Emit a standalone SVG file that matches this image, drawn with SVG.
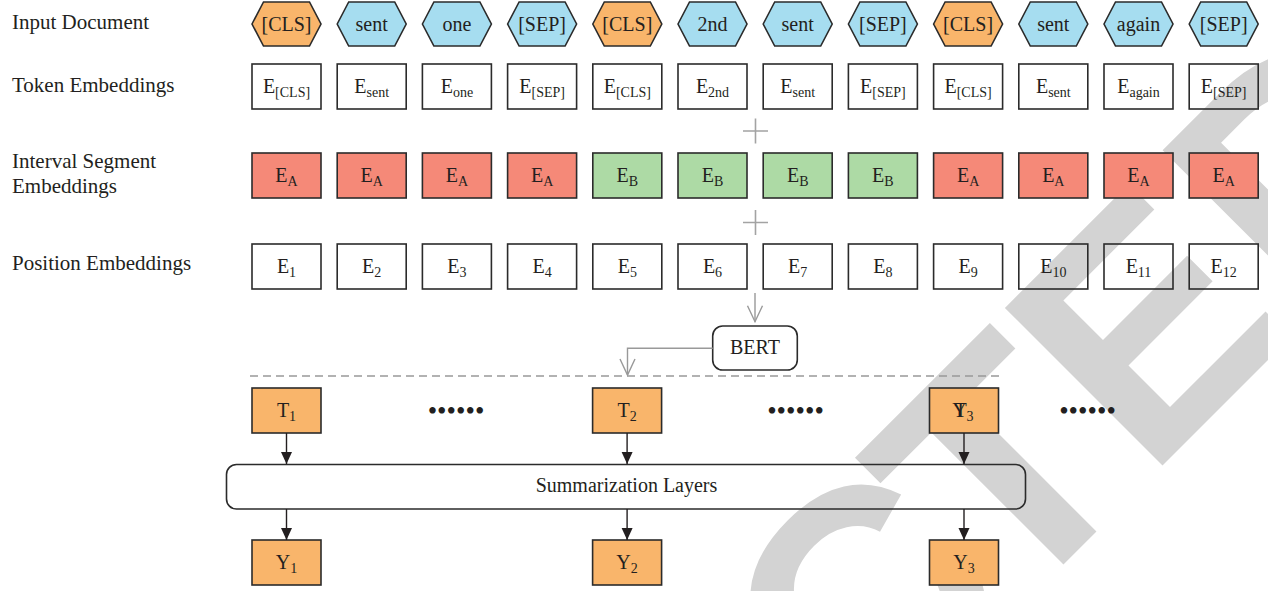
<svg xmlns="http://www.w3.org/2000/svg" xmlns:xlink="http://www.w3.org/1999/xlink" width="1268" height="591" viewBox="0 0 1268 591">
<style>
.lbl{font-family:"Liberation Serif",serif;font-size:21px;fill:#231f20}
.t{font-family:"Liberation Serif",serif;font-size:20px;fill:#231f20;text-anchor:middle}
.s{font-size:14px}
.box{stroke:#2b2b2b;stroke-width:1.6;fill:none}
.fo{fill:#F9B56B}
.fb{fill:#A6DDF0}
.fr{fill:#F58978}
.fg{fill:#ADDAA5}
.hex{stroke:#2b2b2b;stroke-width:1.6}
.plus{stroke:#a3a3a3;stroke-width:1.6;fill:none}
.gl{stroke:#999;stroke-width:1.4;fill:none}
.bl{stroke:#231f20;stroke-width:1.4;fill:none}
.dots{font-family:"Liberation Serif",serif;font-size:27px;fill:#231f20;text-anchor:middle}
.wm{font-family:"Liberation Sans",Arial,sans-serif;font-weight:bold;font-size:324px;fill:#d3d3d3}
</style>
<defs>
<polygon id="hexshape" points="0,24 11.5,2 57.5,2 69,24 57.5,46 11.5,46"/>
<marker id="openV" viewBox="-18 -9 20 18" refX="0" refY="0" markerWidth="20" markerHeight="18" markerUnits="userSpaceOnUse" orient="auto">
<path d="M-16,-7.5 L0,0 L-16,7.5" fill="none" stroke="#999" stroke-width="1.4"/>
</marker>
<marker id="solid" viewBox="-13 -7 14 14" refX="0" refY="0" markerWidth="14" markerHeight="14" markerUnits="userSpaceOnUse" orient="auto">
<path d="M-12,-5.5 L0,0 L-12,5.5 Z" fill="#231f20"/>
</marker>
</defs>
<rect width="1268" height="591" fill="#ffffff"/>
<g id="watermark">
<text class="wm" transform="translate(1010,618) rotate(-45)" x="-1328 -1094 -878 -680 -446 -212 0 194 417" y="0">RETRACTED</text>
</g>
<g id="row-labels">
<text class="lbl" x="12" y="29">Input Document</text>
<text class="lbl" x="12" y="92">Token Embeddings</text>
<text class="lbl" x="12" y="168">Interval Segment</text>
<text class="lbl" x="12" y="193">Embeddings</text>
<text class="lbl" x="12" y="270">Position Embeddings</text>
</g>
<g id="input-tokens">
<g id="in1"><use xlink:href="#hexshape" x="252" class="hex fo"/><text class="t" x="286.5" y="30.5">[CLS]</text></g>
<g id="in2"><use xlink:href="#hexshape" x="337.2" class="hex fb"/><text class="t" x="371.7" y="30.5">sent</text></g>
<g id="in3"><use xlink:href="#hexshape" x="422.4" class="hex fb"/><text class="t" x="456.9" y="30.5">one</text></g>
<g id="in4"><use xlink:href="#hexshape" x="507.6" class="hex fb"/><text class="t" x="542.1" y="30.5">[SEP]</text></g>
<g id="in5"><use xlink:href="#hexshape" x="592.8" class="hex fo"/><text class="t" x="627.3" y="30.5">[CLS]</text></g>
<g id="in6"><use xlink:href="#hexshape" x="678" class="hex fb"/><text class="t" x="712.5" y="30.5">2nd</text></g>
<g id="in7"><use xlink:href="#hexshape" x="763.2" class="hex fb"/><text class="t" x="797.7" y="30.5">sent</text></g>
<g id="in8"><use xlink:href="#hexshape" x="848.4" class="hex fb"/><text class="t" x="882.9" y="30.5">[SEP]</text></g>
<g id="in9"><use xlink:href="#hexshape" x="933.6" class="hex fo"/><text class="t" x="968.1" y="30.5">[CLS]</text></g>
<g id="in10"><use xlink:href="#hexshape" x="1018.8" class="hex fb"/><text class="t" x="1053.3" y="30.5">sent</text></g>
<g id="in11"><use xlink:href="#hexshape" x="1104" class="hex fb"/><text class="t" x="1138.5" y="30.5">again</text></g>
<g id="in12"><use xlink:href="#hexshape" x="1189.2" class="hex fb"/><text class="t" x="1223.7" y="30.5">[SEP]</text></g>
</g>
<g id="token-embeddings">
<g id="tok1"><rect class="box" x="252" y="64" width="69" height="45"/><text class="t" x="286.5" y="92.5">E<tspan class="s" dy="4.5">[CLS]</tspan></text></g>
<g id="tok2"><rect class="box" x="337.2" y="64" width="69" height="45"/><text class="t" x="371.7" y="92.5">E<tspan class="s" dy="4.5">sent</tspan></text></g>
<g id="tok3"><rect class="box" x="422.4" y="64" width="69" height="45"/><text class="t" x="456.9" y="92.5">E<tspan class="s" dy="4.5">one</tspan></text></g>
<g id="tok4"><rect class="box" x="507.6" y="64" width="69" height="45"/><text class="t" x="542.1" y="92.5">E<tspan class="s" dy="4.5">[SEP]</tspan></text></g>
<g id="tok5"><rect class="box" x="592.8" y="64" width="69" height="45"/><text class="t" x="627.3" y="92.5">E<tspan class="s" dy="4.5">[CLS]</tspan></text></g>
<g id="tok6"><rect class="box" x="678" y="64" width="69" height="45"/><text class="t" x="712.5" y="92.5">E<tspan class="s" dy="4.5">2nd</tspan></text></g>
<g id="tok7"><rect class="box" x="763.2" y="64" width="69" height="45"/><text class="t" x="797.7" y="92.5">E<tspan class="s" dy="4.5">sent</tspan></text></g>
<g id="tok8"><rect class="box" x="848.4" y="64" width="69" height="45"/><text class="t" x="882.9" y="92.5">E<tspan class="s" dy="4.5">[SEP]</tspan></text></g>
<g id="tok9"><rect class="box" x="933.6" y="64" width="69" height="45"/><text class="t" x="968.1" y="92.5">E<tspan class="s" dy="4.5">[CLS]</tspan></text></g>
<g id="tok10"><rect class="box" x="1018.8" y="64" width="69" height="45"/><text class="t" x="1053.3" y="92.5">E<tspan class="s" dy="4.5">sent</tspan></text></g>
<g id="tok11"><rect class="box" x="1104" y="64" width="69" height="45"/><text class="t" x="1138.5" y="92.5">E<tspan class="s" dy="4.5">again</tspan></text></g>
<g id="tok12"><rect class="box" x="1189.2" y="64" width="69" height="45"/><text class="t" x="1223.7" y="92.5">E<tspan class="s" dy="4.5">[SEP]</tspan></text></g>
</g>
<g id="segment-embeddings">
<g id="seg1"><rect class="box fr" x="252" y="153" width="69" height="45"/><text class="t" x="286.5" y="181.5">E<tspan class="s" dy="4.5">A</tspan></text></g>
<g id="seg2"><rect class="box fr" x="337.2" y="153" width="69" height="45"/><text class="t" x="371.7" y="181.5">E<tspan class="s" dy="4.5">A</tspan></text></g>
<g id="seg3"><rect class="box fr" x="422.4" y="153" width="69" height="45"/><text class="t" x="456.9" y="181.5">E<tspan class="s" dy="4.5">A</tspan></text></g>
<g id="seg4"><rect class="box fr" x="507.6" y="153" width="69" height="45"/><text class="t" x="542.1" y="181.5">E<tspan class="s" dy="4.5">A</tspan></text></g>
<g id="seg5"><rect class="box fg" x="592.8" y="153" width="69" height="45"/><text class="t" x="627.3" y="181.5">E<tspan class="s" dy="4.5">B</tspan></text></g>
<g id="seg6"><rect class="box fg" x="678" y="153" width="69" height="45"/><text class="t" x="712.5" y="181.5">E<tspan class="s" dy="4.5">B</tspan></text></g>
<g id="seg7"><rect class="box fg" x="763.2" y="153" width="69" height="45"/><text class="t" x="797.7" y="181.5">E<tspan class="s" dy="4.5">B</tspan></text></g>
<g id="seg8"><rect class="box fg" x="848.4" y="153" width="69" height="45"/><text class="t" x="882.9" y="181.5">E<tspan class="s" dy="4.5">B</tspan></text></g>
<g id="seg9"><rect class="box fr" x="933.6" y="153" width="69" height="45"/><text class="t" x="968.1" y="181.5">E<tspan class="s" dy="4.5">A</tspan></text></g>
<g id="seg10"><rect class="box fr" x="1018.8" y="153" width="69" height="45"/><text class="t" x="1053.3" y="181.5">E<tspan class="s" dy="4.5">A</tspan></text></g>
<g id="seg11"><rect class="box fr" x="1104" y="153" width="69" height="45"/><text class="t" x="1138.5" y="181.5">E<tspan class="s" dy="4.5">A</tspan></text></g>
<g id="seg12"><rect class="box fr" x="1189.2" y="153" width="69" height="45"/><text class="t" x="1223.7" y="181.5">E<tspan class="s" dy="4.5">A</tspan></text></g>
</g>
<g id="position-embeddings">
<g id="pos1"><rect class="box" x="252" y="244" width="69" height="45"/><text class="t" x="286.5" y="272.5">E<tspan class="s" dy="4.5">1</tspan></text></g>
<g id="pos2"><rect class="box" x="337.2" y="244" width="69" height="45"/><text class="t" x="371.7" y="272.5">E<tspan class="s" dy="4.5">2</tspan></text></g>
<g id="pos3"><rect class="box" x="422.4" y="244" width="69" height="45"/><text class="t" x="456.9" y="272.5">E<tspan class="s" dy="4.5">3</tspan></text></g>
<g id="pos4"><rect class="box" x="507.6" y="244" width="69" height="45"/><text class="t" x="542.1" y="272.5">E<tspan class="s" dy="4.5">4</tspan></text></g>
<g id="pos5"><rect class="box" x="592.8" y="244" width="69" height="45"/><text class="t" x="627.3" y="272.5">E<tspan class="s" dy="4.5">5</tspan></text></g>
<g id="pos6"><rect class="box" x="678" y="244" width="69" height="45"/><text class="t" x="712.5" y="272.5">E<tspan class="s" dy="4.5">6</tspan></text></g>
<g id="pos7"><rect class="box" x="763.2" y="244" width="69" height="45"/><text class="t" x="797.7" y="272.5">E<tspan class="s" dy="4.5">7</tspan></text></g>
<g id="pos8"><rect class="box" x="848.4" y="244" width="69" height="45"/><text class="t" x="882.9" y="272.5">E<tspan class="s" dy="4.5">8</tspan></text></g>
<g id="pos9"><rect class="box" x="933.6" y="244" width="69" height="45"/><text class="t" x="968.1" y="272.5">E<tspan class="s" dy="4.5">9</tspan></text></g>
<g id="pos10"><rect class="box" x="1018.8" y="244" width="69" height="45"/><text class="t" x="1053.3" y="272.5">E<tspan class="s" dy="4.5">10</tspan></text></g>
<g id="pos11"><rect class="box" x="1104" y="244" width="69" height="45"/><text class="t" x="1138.5" y="272.5">E<tspan class="s" dy="4.5">11</tspan></text></g>
<g id="pos12"><rect class="box" x="1189.2" y="244" width="69" height="45"/><text class="t" x="1223.7" y="272.5">E<tspan class="s" dy="4.5">12</tspan></text></g>
</g>
<g id="plus-signs">
<path class="plus" d="M743,131 H768 M755.5,118.5 V143.5"/>
<path class="plus" d="M743,222.5 H768 M755.5,210 V235"/>
</g>
<g id="bert"><rect class="box" x="712.7" y="326" width="84.6" height="44" rx="10"/><text class="t" x="755" y="353.5">BERT</text></g>
<g id="T1"><rect class="box fo" x="252" y="388" width="69" height="45"/><text class="t" x="286.5" y="416.5">T<tspan class="s" dy="4.5">1</tspan></text></g>
<g id="T2"><rect class="box fo" x="592.6" y="388" width="69" height="45"/><text class="t" x="627.1" y="416.5">T<tspan class="s" dy="4.5">2</tspan></text></g>
<g id="T3"><rect class="box fo" x="929.5" y="388" width="69" height="45"/><text class="t" x="964" y="416.5">T<tspan class="s" dy="4.5">3</tspan></text><text class="t" x="959.5" y="416.5">Y</text></g>
<g id="ellipses">
<text class="dots" x="456" y="420">••••••</text>
<text class="dots" x="795.5" y="420">••••••</text>
<text class="dots" x="1087.5" y="420">••••••</text>
</g>
<g id="summarization"><rect class="box" x="226.5" y="464.5" width="799" height="44.5" rx="10"/><text class="t" x="626.5" y="491.5">Summarization Layers</text></g>
<g id="Y1"><rect class="box fo" x="252" y="540" width="69" height="45"/><text class="t" x="286.5" y="568.5">Y<tspan class="s" dy="4.5">1</tspan></text></g>
<g id="Y2"><rect class="box fo" x="592.6" y="540" width="69" height="45"/><text class="t" x="627.1" y="568.5">Y<tspan class="s" dy="4.5">2</tspan></text></g>
<g id="Y3"><rect class="box fo" x="929.5" y="540" width="69" height="45"/><text class="t" x="964" y="568.5">Y<tspan class="s" dy="4.5">3</tspan></text></g>
<g id="connectors">
<path class="gl" d="M755,293 V321.7" marker-end="url(#openV)"/>
<path class="gl" d="M712.7,348.3 H627.5 V375" marker-end="url(#openV)"/>
<path d="M250,376 H1000" stroke="#999" stroke-width="1.4" stroke-dasharray="8 5" fill="none"/>
<path class="bl" d="M286.5,433 V464" marker-end="url(#solid)"/>
<path class="bl" d="M627.1,433 V464" marker-end="url(#solid)"/>
<path class="bl" d="M964,433 V464" marker-end="url(#solid)"/>
<path class="bl" d="M286.5,509 V540" marker-end="url(#solid)"/>
<path class="bl" d="M627.1,509 V540" marker-end="url(#solid)"/>
<path class="bl" d="M964,509 V540" marker-end="url(#solid)"/>
</g>
</svg>
